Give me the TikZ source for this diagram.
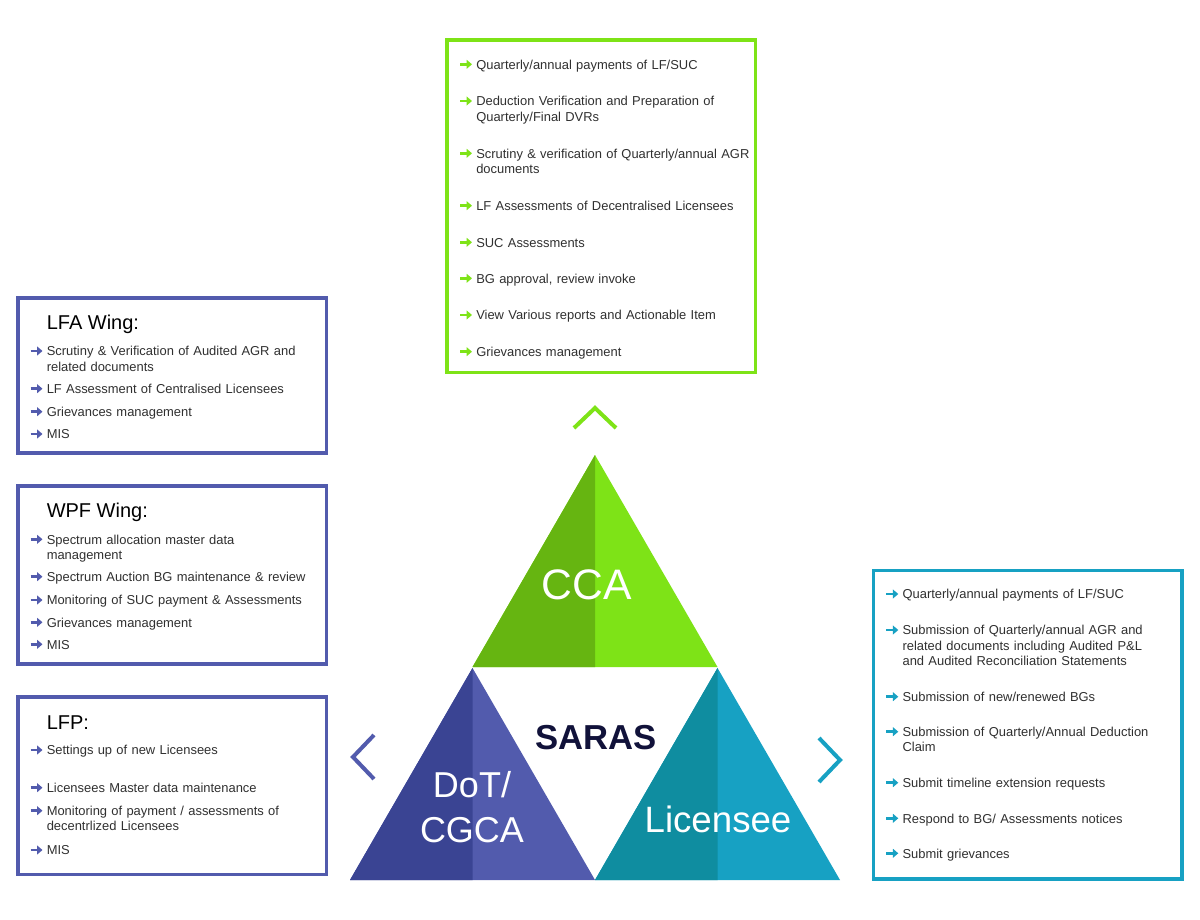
\documentclass[tikz,border=0pt]{standalone}
\usepackage{fontspec}
\setmainfont{Liberation Sans}
\usetikzlibrary{arrows.meta}

\definecolor{ccaLight}{HTML}{7EE317}
\definecolor{ccaDark}{HTML}{66B511}
\definecolor{dotLight}{HTML}{525BAD}
\definecolor{dotDark}{HTML}{3A4493}
\definecolor{licLight}{HTML}{17A1C3}
\definecolor{licDark}{HTML}{0F8DA0}
\definecolor{sarasNavy}{HTML}{11123A}
\definecolor{dutyGrey}{HTML}{303030}

\newcommand{\dutySize}{\fontsize{9.7}{11.6}\selectfont}
\newcommand{\duty}[5]{%
  \draw[bulletArrow, #2] (#3-16,#4) -- (#3-4,#4);
  \node[dutyText, anchor=base west] (#1) at (#3,#4+4.8) {#5};}

\tikzset{
  bulletArrow/.style={line width=2pt, -{Triangle[length=4pt,width=6.5pt]}},
  dutyText/.style={inner sep=0pt, text=dutyGrey, font=\dutySize, text width=240pt, align=left},
  wingTitle/.style={inner sep=0pt, anchor=base west, font=\fontsize{15}{17}\selectfont},
  frameBox/.style={line width=2.4pt},
  chevron/.style={line width=3pt},
  bigLabel/.style={inner sep=0pt, text=white, anchor=base}
}

\begin{document}
\begin{tikzpicture}[x=0.75pt, y=-0.75pt]
  \useasboundingbox[fill=white] (0,0) rectangle (1200,920);

  % frames
  \draw[frameBox, ccaLight] (447,40) rectangle (755.5,372.5);
  \draw[frameBox, dotLight] (18,298) rectangle (326.7,453);
  \draw[frameBox, dotLight] (18,486) rectangle (326.7,664);
  \draw[frameBox, dotLight] (18,697) rectangle (326.7,874.7);
  \draw[frameBox, licLight] (873.7,570.3) rectangle (1182,879);

  % CCA duties
  \duty{cca1}{ccaLight}{476}{64.3}{Quarterly/annual payments of LF/SUC}
  \duty{cca2}{ccaLight}{476}{101}{Deduction Verification and Preparation of\\Quarterly/Final DVRs}
  \duty{cca3}{ccaLight}{476}{153.3}{Scrutiny \& verification of Quarterly/annual AGR\\documents}
  \duty{cca4}{ccaLight}{476}{205.7}{LF Assessments of Decentralised Licensees}
  \duty{cca5}{ccaLight}{476}{242.3}{SUC Assessments}
  \duty{cca6}{ccaLight}{476}{278.3}{BG approval, review invoke}
  \duty{cca7}{ccaLight}{476}{315}{View Various reports and Actionable Item}
  \duty{cca8}{ccaLight}{476}{351.7}{Grievances management}

  % LFA wing
  \node[wingTitle] (lfaTitle) at (46.5,329) {LFA Wing:};
  \duty{lfa1}{dotLight}{46.5}{351}{Scrutiny \& Verification of Audited AGR and\\related documents}
  \duty{lfa2}{dotLight}{46.5}{388.7}{LF Assessment of Centralised Licensees}
  \duty{lfa3}{dotLight}{46.5}{411.7}{Grievances management}
  \duty{lfa4}{dotLight}{46.5}{434}{MIS}

  % WPF wing
  \node[wingTitle] (wpfTitle) at (46.5,517.3) {WPF Wing:};
  \duty{wpf1}{dotLight}{46.5}{539.3}{Spectrum allocation master data\\management}
  \duty{wpf2}{dotLight}{46.5}{576.7}{Spectrum Auction BG maintenance \& review}
  \duty{wpf3}{dotLight}{46.5}{600}{Monitoring of SUC payment \& Assessments}
  \duty{wpf4}{dotLight}{46.5}{622.3}{Grievances management}
  \duty{wpf5}{dotLight}{46.5}{644.3}{MIS}

  % LFP
  \node[wingTitle] (lfpTitle) at (46.5,729) {LFP:};
  \duty{lfp1}{dotLight}{46.5}{750}{Settings up of new Licensees}
  \duty{lfp2}{dotLight}{46.5}{787.7}{Licensees Master data maintenance}
  \duty{lfp3}{dotLight}{46.5}{810.7}{Monitoring of payment / assessments of\\decentrlized Licensees}
  \duty{lfp4}{dotLight}{46.5}{850}{MIS}

  % Licensee duties
  \duty{lic1}{licLight}{902.3}{594}{Quarterly/annual payments of LF/SUC}
  \duty{lic2}{licLight}{902.3}{630}{Submission of Quarterly/annual AGR and\\related documents including Audited P\&L\\and Audited Reconciliation Statements}
  \duty{lic3}{licLight}{902.3}{696.7}{Submission of new/renewed BGs}
  \duty{lic4}{licLight}{902.3}{731.7}{Submission of Quarterly/Annual Deduction\\Claim}
  \duty{lic5}{licLight}{902.3}{782.7}{Submit timeline extension requests}
  \duty{lic6}{licLight}{902.3}{818.3}{Respond to BG/ Assessments notices}
  \duty{lic7}{licLight}{902.3}{853.3}{Submit grievances}

  % triangles: light whole, dark left half on top
  \foreach \ax/\ay/\dk/\lt in {595/455/ccaDark/ccaLight, 472.5/668/dotDark/dotLight, 717.5/668/licDark/licLight}{
    \fill[\lt] (\ax,\ay) -- ++(122.5,212) -- ++(-245,0) -- cycle;
    \fill[\dk] (\ax,\ay) -- ++(-122.5,212) -- ++(122.5,0) -- cycle;
  }

  % chevrons
  \draw[chevron, ccaLight] (574,428) -- (595,408) -- (616,428);
  \draw[chevron, dotLight] (374,735) -- (353,757) -- (374,779);
  \draw[chevron, licLight] (819,738) -- (840,760) -- (819,782);

  % labels
  \node[bigLabel, font=\fontsize{32}{36}\selectfont] (cca) at (587,599) {CCA};
  \node[bigLabel, text=sarasNavy, font=\bfseries\fontsize{26}{30}\selectfont] (saras) at (595.7,749.3) {SARAS};
  \node[bigLabel, text width=110pt, align=center, font=\fontsize{27}{33.75}\selectfont] (dot) at (472,797.3) {DoT/\\CGCA};
  \node[bigLabel, font=\fontsize{27.5}{32}\selectfont] (licensee) at (718,832.7) {Licensee};
\end{tikzpicture}
\end{document}
